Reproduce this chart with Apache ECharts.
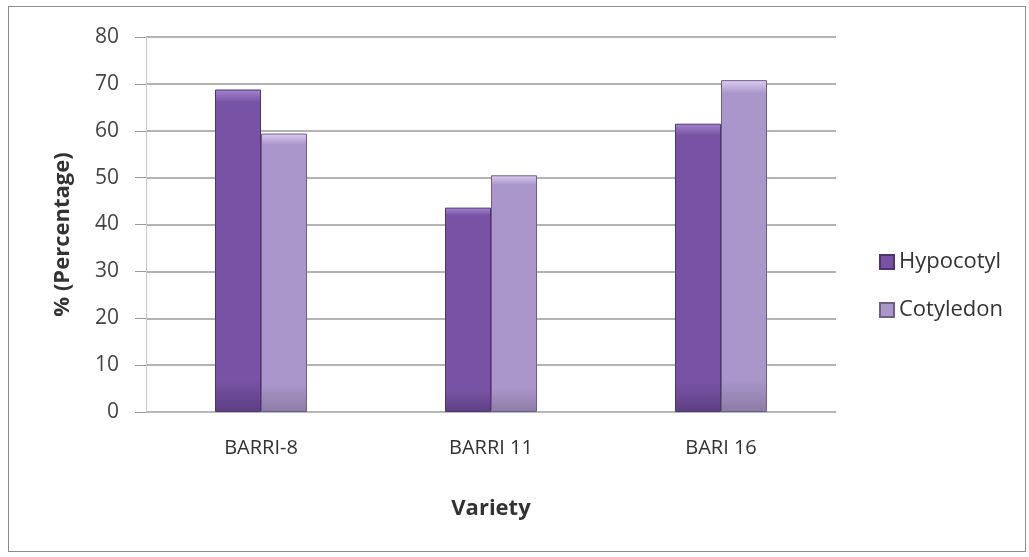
<!DOCTYPE html>
<html>
<head>
<meta charset="utf-8">
<script src="https://cdn.jsdelivr.net/npm/echarts@6/dist/echarts.min.js"></script>
<style>
  html, body { margin: 0; padding: 0; background: #fff; }
  #frame {
    position: absolute; left: 8px; top: 6px;
    width: 1018px; height: 546px;
    border: 1px solid #8c8c8c; box-sizing: border-box;
  }
  #chart { position: absolute; left: 0; top: 0; width: 1029px; height: 557px; }
</style>
</head>
<body>
<div id="frame"></div>
<div id="chart"></div>
<script>
const categories = ['BARRI-8', 'BARRI 11', 'BARI 16']
const hypocotyl = [68.8, 43.6, 61.5]
const cotyledon = [59.4, 50.5, 70.8]
const yTicks = { min: 0, max: 80, interval: 10 }

const chart = echarts.init(document.getElementById('chart'))
const font = 'Open Sans, Noto Sans, sans-serif'

// lighter bevel at the top, darker toward the base
function barGradient(light, mid, dark) {
  return new echarts.graphic.LinearGradient(0, 0, 0, 1, [
    { offset: 0, color: light },
    { offset: 0.04, color: mid },
    { offset: 0.9, color: mid },
    { offset: 1, color: dark },
  ])
}

chart.setOption({
  animation: false,
  textStyle: { fontFamily: font },
  grid: { left: 146, right: 193, top: 37, bottom: 145 },
  legend: {
    orient: 'vertical',
    left: 874,
    top: 246,
    itemGap: 26,
    itemWidth: 14,
    itemHeight: 14,
    icon: 'rect',
    textStyle: { fontSize: 22, lineHeight: 22, color: '#333', fontFamily: font },
    data: ['Hypocotyl', 'Cotyledon'],
  },
  xAxis: {
    type: 'category',
    data: categories,
    name: 'Variety',
    nameLocation: 'middle',
    nameGap: 86,
    nameTextStyle: { fontSize: 22, fontWeight: 'bold', color: '#333' },
    axisTick: { show: false },
    axisLine: { lineStyle: { color: '#bbbbbb', width: 1 } },
    axisLabel: { fontSize: 20, color: '#333', margin: 26 },
  },
  yAxis: {
    type: 'value',
    min: yTicks.min,
    max: yTicks.max,
    interval: yTicks.interval,
    name: '% (Percentage)',
    nameLocation: 'middle',
    nameGap: 72,
    nameRotate: 90,
    nameTextStyle: { fontSize: 22, fontWeight: 'bold', color: '#333', padding: [0, 20, 0, 0] },
    axisLine: { show: true, lineStyle: { color: '#c8c8c8' } },
    axisTick: { show: true, length: 11, lineStyle: { color: '#999' } },
    axisLabel: { fontSize: 21, color: '#444', margin: 27 },
    splitLine: { lineStyle: { color: '#9a9a9a', width: 1.5 } },
  },
  series: [
    {
      name: 'Hypocotyl',
      type: 'bar',
      data: hypocotyl,
      barWidth: '20%',
      barGap: '0%',
      itemStyle: {
        color: barGradient('#a486d0', '#7853a5', '#5c3f82'),
        borderColor: '#4e3470',
        borderWidth: 1,
      },
    },
    {
      name: 'Cotyledon',
      type: 'bar',
      data: cotyledon,
      barWidth: '20%',
      itemStyle: {
        color: barGradient('#dccdf0', '#aa96ca', '#8d7ca6'),
        borderColor: '#6f5f88',
        borderWidth: 1,
      },
    },
  ],
})

window.addEventListener('resize', () => chart.resize())
</script>
</body>
</html>
